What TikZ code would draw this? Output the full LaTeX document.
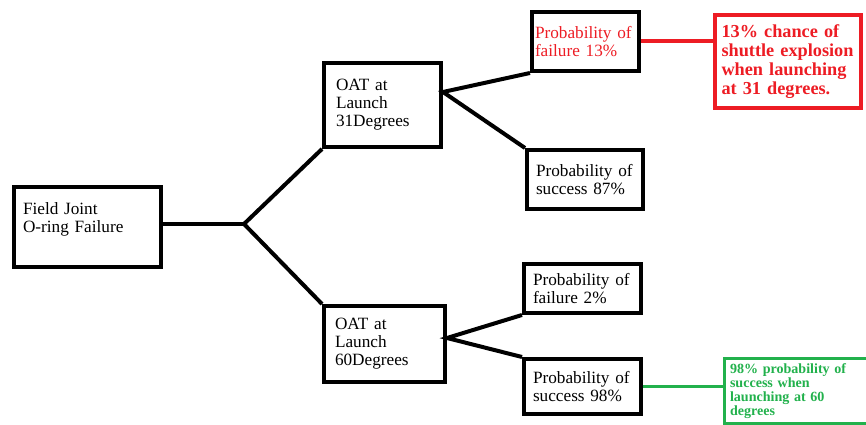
\documentclass[tikz,border=0pt]{standalone}
\usepackage{fontspec}
\setmainfont{Liberation Serif}
\definecolor{paintred}{RGB}{237,28,36}
\definecolor{paintgreen}{RGB}{34,177,76}

\begin{document}
\begin{tikzpicture}[
  x=0.02cm, y=-0.02cm,
  tbox/.style={draw, line width=0.08cm, align=left, inner ysep=0pt,
               inner xsep=0.18cm, font=\fontsize{9.8}{10.2}\selectfont},
  note/.style={draw, align=left, inner ysep=0pt},
  link/.style={line width=0.08cm},
]
\path[use as bounding box, clip] (0,0) rectangle (866,425);

% --- root ---
\node[tbox, text width=2.58cm, minimum height=1.6cm] (FJ) at (87.5,227)
  {Field Joint\\O-ring Failure\\[-2pt]\strut};

% --- launch temperature ---
\node[tbox, inner xsep=0.24cm, text width=1.86cm, minimum height=1.68cm]
  (OAT31) at (382.5,105) {OAT at\\Launch\\31Degrees};
\node[tbox, inner xsep=0.22cm, text width=1.98cm, minimum height=1.52cm]
  (OAT60) at (384.5,344) {OAT at\\Launch\\60Degrees};

% --- outcomes ---
\node[tbox, inner xsep=0.06cm, text width=2.02cm, minimum height=1.18cm,
      text=paintred] (F31) at (585.5,41.5) {Probability of\\failure 13\%};
\node[tbox, text width=1.96cm, minimum height=1.18cm]
  (S31) at (585,179.5) {Probability of\\success 87\%};
\node[tbox, text width=1.98cm, minimum height=0.98cm]
  (F60) at (582.5,288.5) {Probability of\\failure 2\%};
\node[tbox, text width=1.98cm, minimum height=1.1cm]
  (S60) at (582.5,386.5) {Probability of\\success 98\%};

% --- notes ---
\node[note, draw=paintred, text=paintred, line width=0.08cm, inner xsep=0.13cm,
      text width=2.66cm, minimum height=1.86cm,
      font=\bfseries\fontsize{10.4}{10.8}\selectfont] (R31) at (788,61.5)
  {13\% chance of\\shuttle explosion\\when launching\\at 31 degrees.};
\node[note, draw=paintgreen, text=paintgreen, line width=0.06cm, inner xsep=0.11cm,
      text width=2.72cm, minimum height=1.3cm,
      font=\bfseries\fontsize{8}{8}\selectfont] (G60) at (798,391)
  {98\% probability of\\success when\\launching at 60\\degrees};

% --- connectors ---
\coordinate (fork) at (244,224);
\coordinate (o31) at ([yshift=0.26cm]OAT31.east);
\coordinate (o60) at ([yshift=0.12cm]OAT60.east);
\draw[link] (FJ.east |- fork) -- (fork);
\draw[link] (OAT31.south west) -- (fork) -- (OAT60.north west);
\draw[link] (F31.south west) -- (o31) -- (S31.north west);
\draw[link] (F60.south west) -- (o60) -- (S60.north west);
\draw[link, paintred] (F31.east) -- (F31.east -| R31.west);
\draw[link, paintgreen, line width=0.06cm] (S60.east) -- (S60.east -| G60.west);
\end{tikzpicture}
\end{document}
